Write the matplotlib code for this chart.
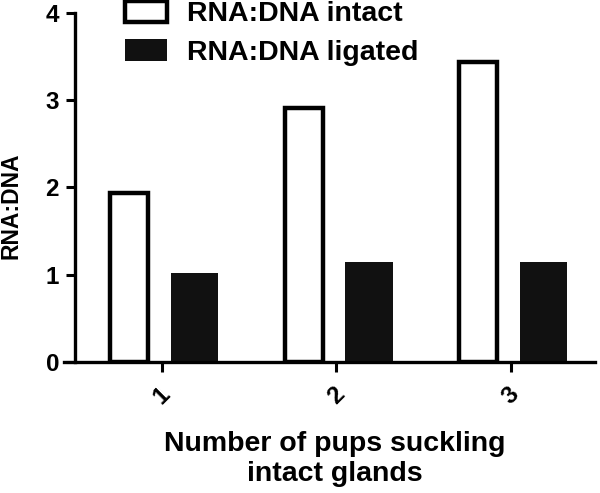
import matplotlib
matplotlib.use("Agg")
from matplotlib import pyplot as plt
import numpy as np

plt.rcParams['font.family'] = ['Liberation Sans', 'DejaVu Sans']
plt.rcParams['font.weight'] = 'bold'

groups = ['1', '2', '3']
intact = [1.93, 2.91, 3.44]
ligated = [1.02, 1.14, 1.14]
yticks = [0, 1, 2, 3, 4]

x = np.arange(1, len(groups) + 1)

fig = plt.figure(figsize=(6, 4.93), dpi=100)
ax = fig.add_axes([0.1067, 0.2663, 0.885, 0.7073])

ax.bar(x - 0.186, intact, width=0.22, facecolor='white', edgecolor='black',
       linewidth=3.2, label='RNA:DNA intact')
ax.bar(x + 0.188, ligated, width=0.272, facecolor='#111111', edgecolor='none',
       label='RNA:DNA ligated')

ax.set_xlim(0.44, 3.483)
ax.set_ylim(0, 4)
ax.set_yticks(yticks)
ax.set_xticks(x)
ax.set_xticklabels(groups, rotation=45, ha='center')

for s in ['top', 'right']:
    ax.spines[s].set_visible(False)
ax.spines['left'].set_position(('data', 0.503))
ax.spines['left'].set_linewidth(2.4)
ax.spines['bottom'].set_linewidth(2.4)

ax.tick_params(axis='y', length=6.5, width=2.2, pad=5, labelsize=17.5)
ax.tick_params(axis='x', length=7.2, width=2.2, pad=8, labelsize=17.5)

ax.set_ylabel('RNA:DNA', fontsize=16.5, fontweight='bold')
ax.yaxis.set_label_coords(-0.078, 0.4465)
ax.set_xlabel('Number of pups suckling\nintact glands', fontsize=20.5,
              fontweight='bold', linespacing=1.2)
ax.xaxis.set_label_coords(0.51, -0.2)

leg = ax.legend(loc='upper left', bbox_to_anchor=(0.207, 1.0), bbox_transform=fig.transFigure,
                frameon=False, fontsize=20.5, handlelength=1.5, handleheight=0.8,
                handletextpad=0.7, labelspacing=0.42, borderpad=0.02, borderaxespad=0)

fig.savefig('out.png', dpi=100)
